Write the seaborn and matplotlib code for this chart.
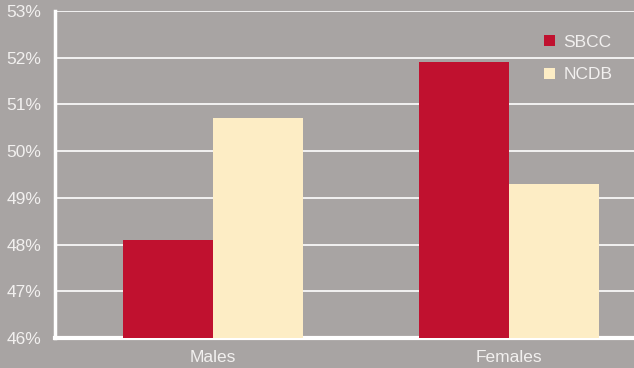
import pandas as pd
import matplotlib.pyplot as plt
import seaborn as sns
from matplotlib.ticker import FuncFormatter

groups = ['Males', 'Females']
sbcc = [48.1, 51.9]
ncdb = [50.7, 49.3]
series = ['SBCC', 'NCDB']

df = pd.DataFrame({
    'Group': groups * 2,
    'Source': ['SBCC'] * 2 + ['NCDB'] * 2,
    'Value': sbcc + ncdb,
})

bg = '#a8a4a3'
txt = '#f2f0ef'
sns.set_style('white')
plt.rcParams['font.family'] = ['Liberation Sans Narrow', 'Liberation Sans', 'DejaVu Sans']

fig = plt.figure(figsize=(6.34, 3.68), dpi=100, facecolor=bg)
ax = fig.add_axes([55 / 634, 30 / 368, 579 / 634, 327 / 368])
ax.set_facecolor(bg)

sns.barplot(data=df, x='Group', y='Value', hue='Source', hue_order=series,
            palette=['#c0112f', '#fdedc5'], width=0.61, saturation=1,
            linewidth=0, ax=ax, zorder=3)

ax.set_ylim(46, 53)
ax.set_xlim(-0.534, 1.422)
ax.set_yticks(range(46, 54))
ax.yaxis.set_major_formatter(FuncFormatter(lambda v, p: f'{v:.0f}%'))
ax.grid(axis='y', color='white', linewidth=1.2, zorder=0)
ax.set_axisbelow(True)

for s in ['top', 'right']:
    ax.spines[s].set_visible(False)
ax.spines['left'].set_color('white')
ax.spines['left'].set_linewidth(2.5)
ax.spines['bottom'].set_color('white')
ax.spines['bottom'].set_linewidth(3)

ax.tick_params(axis='both', length=0, colors=txt, labelsize=12.5, pad=10)
ax.tick_params(axis='x', pad=9)
ax.set_xlabel('')
ax.set_ylabel('')

leg = ax.legend(loc='upper right', bbox_to_anchor=(0.99, 0.975), frameon=False,
                handlelength=0.6, handleheight=0.6, handletextpad=0.5,
                labelspacing=1.0, fontsize=12.5)
for t in leg.get_texts():
    t.set_color(txt)

fig.savefig('out.png', dpi=100, facecolor=bg)
